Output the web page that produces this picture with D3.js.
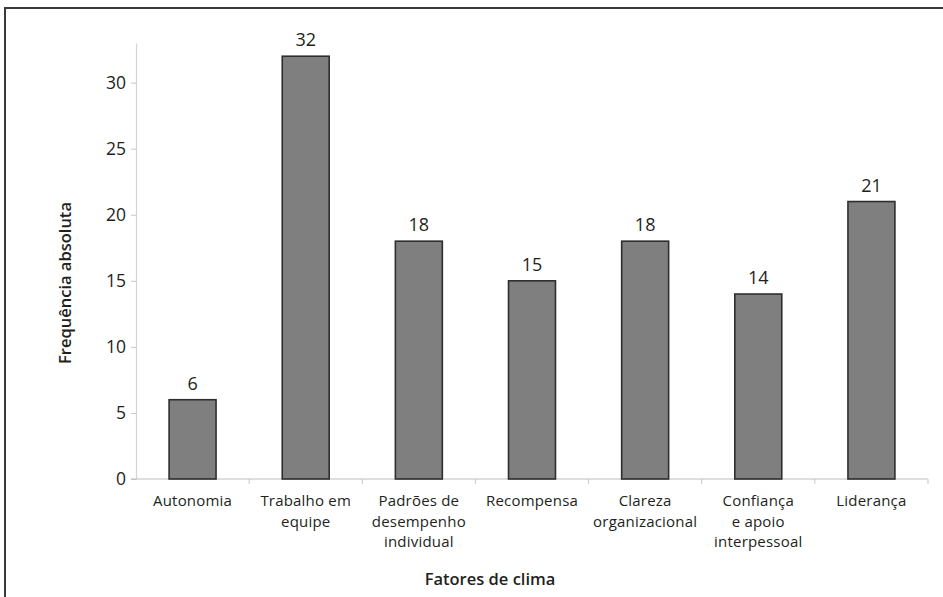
<!DOCTYPE html>
<html>
<head>
<meta charset="utf-8">
<script src="https://cdn.jsdelivr.net/npm/d3@7"></script>
<style>
  html, body { margin: 0; padding: 0; background: #fff; }
  svg { display: block; font-family: "Open Sans", "Noto Sans", sans-serif; }
  .tick-label { font-size: 17.5px; fill: #231f20; }
  .cat-label { font-size: 15px; fill: #231f20; letter-spacing: 0.2px; }
  .value-label { font-size: 18px; fill: #231f20; }
  .axis-title { font-size: 16.5px; font-weight: 600; fill: #231f20; }
</style>
</head>
<body>
<div id="chart"></div>
<script>
// bar chart: frequency of each climate factor
const categories = [
  "Autonomia",
  "Trabalho em equipe",
  "Padrões de desempenho individual",
  "Recompensa",
  "Clareza organizacional",
  "Confiança e apoio interpessoal",
  "Liderança"
];
// how each category label breaks into lines
const categoryLines = [
  ["Autonomia"],
  ["Trabalho em", "equipe"],
  ["Padrões de", "desempenho", "individual"],
  ["Recompensa"],
  ["Clareza", "organizacional"],
  ["Confiança", "e apoio", "interpessoal"],
  ["Liderança"]
];
const values = [6, 32, 18, 15, 18, 14, 21];
const yTicks = [0, 5, 10, 15, 20, 25, 30];
const yTitle = "Frequência absoluta";
const xTitle = "Fatores de clima";

const W = 943, H = 597;
const plot = { left: 136, right: 928, top: 43, bottom: 479 };

const svg = d3.select("#chart").append("svg")
  .attr("width", W).attr("height", H);

// outer frame (runs off the right and bottom edge)
svg.append("rect")
  .attr("x", 5).attr("y", 8)
  .attr("width", W + 10).attr("height", H + 10)
  .attr("fill", "none").attr("stroke", "#3a3a3a").attr("stroke-width", 2);

const x = d3.scaleBand()
  .domain(categories)
  .range([plot.left, plot.right])
  .paddingInner(0.585)
  .paddingOuter(0.2925);

// category slots without padding, for the boundary ticks and labels
const xSlot = d3.scaleBand()
  .domain(categories)
  .range([plot.left, plot.right])
  .padding(0);

const y = d3.scaleLinear()
  .domain([0, 33])
  .range([plot.bottom, plot.top]);

// y axis
const yAxis = svg.append("g")
  .attr("transform", `translate(${plot.left},0)`)
  .call(d3.axisLeft(y).tickValues(yTicks).tickSize(5).tickPadding(5).tickSizeOuter(0));
yAxis.attr("font-family", null).attr("font-size", null);
yAxis.select(".domain").attr("stroke", "#d4d4d4").attr("stroke-width", 1.2);
yAxis.selectAll(".tick line").attr("stroke", "#c8c8c8");
yAxis.selectAll(".tick text").attr("class", "tick-label").attr("fill", null);

// x axis line + boundary ticks
svg.append("line")
  .attr("x1", plot.left - 5).attr("x2", plot.right)
  .attr("y1", y(0)).attr("y2", y(0))
  .attr("stroke", "#bdbdbd").attr("stroke-width", 1.2);

const bounds = categories.map(c => xSlot(c)).concat([plot.right]).slice(1);
svg.selectAll(".xtick").data(bounds).join("line")
  .attr("class", "xtick")
  .attr("x1", d => d).attr("x2", d => d)
  .attr("y1", y(0)).attr("y2", y(0) + 5)
  .attr("stroke", "#c8c8c8");

// bars
svg.selectAll(".bar").data(values).join("rect")
  .attr("class", "bar")
  .attr("x", (d, i) => x(categories[i]))
  .attr("y", d => y(d))
  .attr("width", x.bandwidth())
  .attr("height", d => y(0) - y(d))
  .attr("fill", "#7f7f7f")
  .attr("stroke", "#2e2e2e")
  .attr("stroke-width", 1.6);

// value labels
svg.selectAll(".value-label").data(values).join("text")
  .attr("class", "value-label")
  .attr("x", (d, i) => x(categories[i]) + x.bandwidth() / 2)
  .attr("y", d => y(d) - 10)
  .attr("text-anchor", "middle")
  .text(d => d);

// category labels, one text per line
const catLines = categoryLines.flatMap((lines, i) =>
  lines.map((t, j) => ({ cat: categories[i], t, j })));
svg.selectAll(".cat-label").data(catLines).join("text")
  .attr("class", "cat-label")
  .attr("text-anchor", "middle")
  .attr("x", d => xSlot(d.cat) + xSlot.bandwidth() / 2)
  .attr("y", d => 506 + d.j * 20.5)
  .text(d => d.t);

// axis titles
svg.append("text")
  .attr("class", "axis-title")
  .attr("text-anchor", "middle")
  .attr("transform", "translate(71,283) rotate(-90)")
  .text(yTitle);

svg.append("text")
  .attr("class", "axis-title")
  .attr("text-anchor", "middle")
  .attr("x", 490).attr("y", 585)
  .text(xTitle);
</script>
</body>
</html>
